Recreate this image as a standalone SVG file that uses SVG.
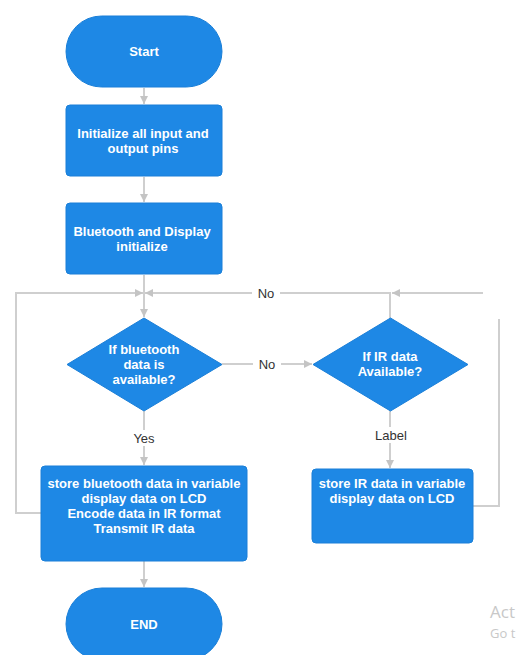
<svg xmlns="http://www.w3.org/2000/svg" width="519" height="655" viewBox="0 0 519 655">
<defs>
<style>
.n{fill:#1e88e5;stroke:#1a7fd8;stroke-width:1}
.t{font-family:"Liberation Sans",Arial,sans-serif;font-size:13px;font-weight:bold;fill:#ffffff;text-anchor:middle}
.c{fill:none;stroke:#cfcfcf;stroke-width:2}
.l{font-family:"Liberation Sans",Arial,sans-serif;font-size:13px;fill:#333333;text-anchor:middle}
.w{font-family:"Segoe UI","Open Sans",sans-serif;fill:#c8c8c8}
</style>
<marker id="a" viewBox="0 0 10 10" refX="10" refY="5" markerWidth="8" markerHeight="8" markerUnits="userSpaceOnUse" orient="auto">
<path d="M0,0 L10,5 L0,10 z" fill="#c4c4c4"/>
</marker>
</defs>
<rect width="519" height="655" fill="#ffffff"/>
<g id="connectors">
<line class="c" x1="144" y1="88" x2="144" y2="104" marker-end="url(#a)"/>
<line class="c" x1="144" y1="177" x2="144" y2="202" marker-end="url(#a)"/>
<line class="c" x1="144" y1="275" x2="144" y2="317" marker-end="url(#a)"/>
<polyline class="c" points="41,513 16,513 16,293 143,293" marker-end="url(#a)"/>
<polyline class="c" points="390,318 390,293 145,293" marker-end="url(#a)"/>
<line class="c" x1="483" y1="293" x2="392" y2="293" marker-end="url(#a)"/>
<polyline class="c" points="473,506 499,506 499,319"/>
<line class="c" x1="222" y1="364" x2="312" y2="364" marker-end="url(#a)"/>
<line class="c" x1="144" y1="411" x2="144" y2="465" marker-end="url(#a)"/>
<line class="c" x1="390" y1="411" x2="390" y2="468" marker-end="url(#a)"/>
<line class="c" x1="144" y1="561" x2="144" y2="587" marker-end="url(#a)"/>
<rect x="252" y="285" width="28" height="16" fill="#ffffff"/>
<text class="l" x="266" y="298">No</text>
<rect x="253" y="356" width="28" height="16" fill="#ffffff"/>
<text class="l" x="267" y="369">No</text>
<rect x="128" y="430" width="32" height="16" fill="#ffffff"/>
<text class="l" x="144" y="443">Yes</text>
<rect x="371" y="427" width="40" height="16" fill="#ffffff"/>
<text class="l" x="391" y="440">Label</text>
</g>
<g id="start">
<rect class="n" x="66" y="16" width="156" height="71" rx="35.5"/>
<text class="t" x="144" y="56">Start</text>
</g>
<g id="init-pins">
<rect class="n" x="66" y="105" width="156" height="71" rx="4"/>
<text class="t" x="143" y="138">Initialize all input and</text>
<text class="t" x="143" y="153">output pins</text>
</g>
<g id="bt-init">
<rect class="n" x="66" y="203" width="156" height="71" rx="4"/>
<text class="t" x="142" y="236">Bluetooth and Display</text>
<text class="t" x="142" y="251">initialize</text>
</g>
<g id="bt-decision">
<polygon class="n" points="144,318 222,364.5 144,411 67,364.5"/>
<text class="t" x="144" y="354">If bluetooth</text>
<text class="t" x="144" y="369">data is</text>
<text class="t" x="144" y="384">available?</text>
</g>
<g id="ir-decision">
<polygon class="n" points="390.5,318 468,364.5 390.5,411 313,364.5"/>
<text class="t" x="390" y="361">If IR data</text>
<text class="t" x="390" y="376">Available?</text>
</g>
<g id="bt-process">
<rect class="n" x="41" y="466" width="206" height="95" rx="4"/>
<text class="t" x="144" y="488">store bluetooth data in variable</text>
<text class="t" x="144" y="503">display data on LCD</text>
<text class="t" x="144" y="518">Encode data in IR format</text>
<text class="t" x="144" y="533">Transmit IR data</text>
</g>
<g id="ir-process">
<rect class="n" x="312" y="469" width="161" height="74" rx="4"/>
<text class="t" x="392" y="488">store IR data in variable</text>
<text class="t" x="392" y="503">display data on LCD</text>
</g>
<g id="end">
<rect class="n" x="66" y="588" width="156" height="72" rx="36"/>
<text class="t" x="144" y="629">END</text>
</g>
<text class="w" x="490" y="618" font-size="17">Act</text>
<text class="w" x="490" y="638" font-size="13">Go t</text>
</svg>
